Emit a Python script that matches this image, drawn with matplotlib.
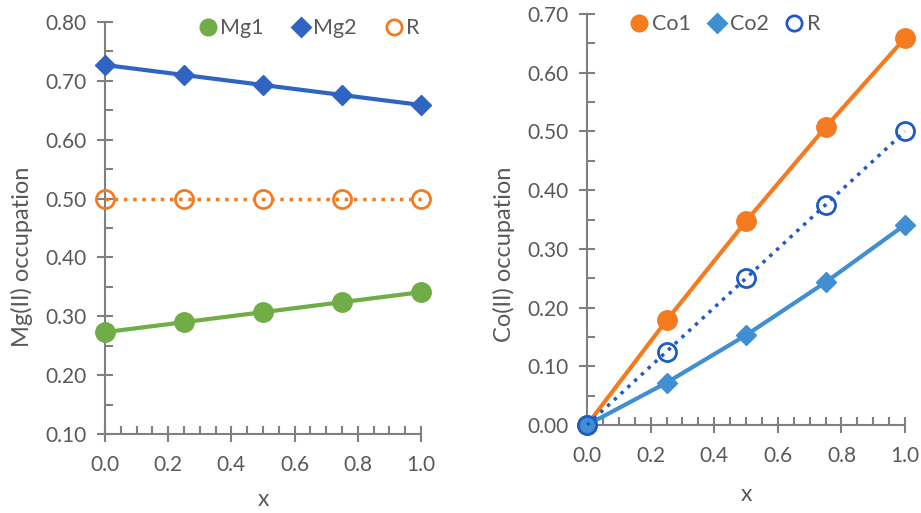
import matplotlib
matplotlib.use("Agg")
import matplotlib.pyplot as plt
from matplotlib.ticker import MultipleLocator, FormatStrFormatter
from matplotlib.lines import Line2D

plt.rcParams['font.family'] = ['Lato', 'DejaVu Sans']

x = [0.0, 0.25, 0.5, 0.75, 1.0]
mg1 = [0.273, 0.290, 0.307, 0.324, 0.341]
mg2 = [0.727, 0.710, 0.693, 0.676, 0.659]
mg_r = [0.5, 0.5, 0.5, 0.5, 0.5]
co1 = [0.0, 0.178, 0.347, 0.507, 0.659]
co2 = [0.0, 0.072, 0.153, 0.243, 0.341]
co_r = [0.0, 0.125, 0.25, 0.375, 0.5]

GREEN = '#70AD47'
DBLUE = '#2F64C2'
ORANGE = '#F47B20'
LBLUE = '#3F8FD2'
RBLUE = '#1F5BC6'
GRAY = '#595959'
AXC = '#808080'
FS = 15

fig = plt.figure(figsize=(9.21, 5.13), dpi=100)
ax1 = fig.add_axes([105/921, 1-434/513, 316/921, 412/513])
ax2 = fig.add_axes([587/921, 1-425/513, 318/921, 411/513])


def style(ax, ymin, ymax, xlabpad):
    ax.set_xlim(0, 1)
    ax.set_ylim(ymin, ymax)
    for s in ['top', 'right']:
        ax.spines[s].set_visible(False)
    for s in ['left', 'bottom']:
        ax.spines[s].set_color(AXC)
        ax.spines[s].set_linewidth(1.5)
    ax.xaxis.set_major_locator(MultipleLocator(0.2))
    ax.xaxis.set_minor_locator(MultipleLocator(0.05))
    ax.yaxis.set_major_locator(MultipleLocator(0.1))
    ax.yaxis.set_minor_locator(MultipleLocator(0.05))
    ax.xaxis.set_major_formatter(FormatStrFormatter('%.1f'))
    ax.yaxis.set_major_formatter(FormatStrFormatter('%.2f'))
    ax.tick_params(which='major', direction='inout', length=12, width=1.5,
                   color=AXC, labelcolor=GRAY, labelsize=FS)
    ax.tick_params(which='minor', direction='in', length=6, width=1.5, color=AXC)
    ax.tick_params(axis='x', which='major', pad=9)
    ax.tick_params(axis='y', which='major', pad=7)
    ax.set_xlabel('x', fontsize=FS + 1.5, color=GRAY, labelpad=xlabpad)


style(ax1, 0.10, 0.80, 10)
style(ax2, 0.0, 0.70, 13)

ax1.plot(x, mg_r, ':', color=ORANGE, lw=2.5, marker='o', ms=13, mfc='none',
         mec=ORANGE, mew=2, clip_on=False, zorder=3)
ax1.plot(x, mg1, '-', color=GREEN, lw=3, marker='o', ms=14, mfc=GREEN,
         mec=GREEN, clip_on=False, zorder=3)
ax1.plot(x, mg2, '-', color=DBLUE, lw=3, marker='D', ms=10, mfc=DBLUE,
         mec=DBLUE, clip_on=False, zorder=3)
ax1.set_ylabel('Mg(II) occupation', fontsize=17, color=GRAY)
ax1.yaxis.set_label_coords(-0.228, 0.43)

ax2.plot(x, co1, '-', color=ORANGE, lw=3, marker='o', ms=14, mfc=ORANGE,
         mec=ORANGE, clip_on=False, zorder=3)
ax2.plot(x, co2, '-', color=LBLUE, lw=3, marker='D', ms=10, mfc=LBLUE,
         mec=LBLUE, clip_on=False, zorder=3)
ax2.plot(x, co_r, ':', color=RBLUE, lw=2.5, marker='o', ms=13, mfc='none',
         mec=RBLUE, mew=2, clip_on=False, zorder=3)
ax2.set_ylabel('Co(II) occupation', fontsize=17, color=GRAY)
ax2.yaxis.set_label_coords(-0.226, 0.415)


def legend(ax, labels, colors, markers, fills, loc, colsp):
    handles = []
    for lab, c, m, f in zip(labels, colors, markers, fills):
        handles.append(Line2D([], [], ls='none', marker=m, ms=(11 if m == 'o' else 9),
                              mfc=(c if f else 'none'), mec=c, mew=2, label=lab))
    leg = ax.legend(handles=handles, loc='upper left', bbox_to_anchor=loc, ncol=3,
                    frameon=False, fontsize=15.5, handlelength=0.8, handletextpad=0.2,
                    columnspacing=colsp, borderaxespad=0)
    for t in leg.get_texts():
        t.set_color(GRAY)


legend(ax1, ['Mg1', 'Mg2', 'R'], [GREEN, DBLUE, ORANGE], ['o', 'D', 'o'],
       [True, True, False], (0.27, 1.03), 1.3)
legend(ax2, ['Co1', 'Co2', 'R'], [ORANGE, LBLUE, RBLUE], ['o', 'D', 'o'],
       [True, True, False], (0.11, 1.02), 0.8)

fig.savefig('out.png', dpi=100)
